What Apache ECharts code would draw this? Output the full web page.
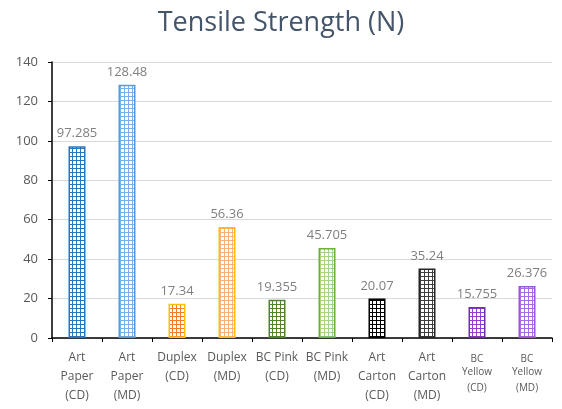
<!DOCTYPE html>
<html>
<head>
<meta charset="utf-8">
<script src="https://cdn.jsdelivr.net/npm/echarts@6/dist/echarts.min.js"></script>
<style>
  html, body { margin: 0; padding: 0; background: #fff; }
  #chart { width: 562px; height: 409px; }
</style>
</head>
<body>
<div id="chart"></div>
<script>
// Tensile strength per board grade and direction
const categories = [
  'Art\nPaper\n(CD)', 'Art\nPaper\n(MD)', 'Duplex\n(CD)', 'Duplex\n(MD)',
  'BC Pink\n(CD)', 'BC Pink\n(MD)', 'Art\nCarton\n(CD)', 'Art\nCarton\n(MD)',
  'BC\nYellow\n(CD)', 'BC\nYellow\n(MD)'
];
const values = [97.285, 128.48, 17.34, 56.36, 19.355, 45.705, 20.07, 35.24, 15.755, 26.376];
const yTicks = [0, 20, 40, 60, 80, 100, 120, 140];

// Border and grid-line colours for each bar's cross-hatch fill
const borderColors = ['#2e75b6', '#5b9bd5', '#ffc000', '#ffc000', '#548235', '#70ad47', '#000000', '#262626', '#7030a0', '#9b59d0'];
const hatchColors  = ['#2e75b6', '#7fb0e0', '#ed7d31', '#f4b183', '#548235', '#a9d18e', '#000000', '#404040', '#8e44c8', '#a66ee0'];

function hatch(color) {
  const c = document.createElement('canvas');
  c.width = 4; c.height = 4;
  const g = c.getContext('2d');
  g.fillStyle = '#ffffff';
  g.fillRect(0, 0, 4, 4);
  g.fillStyle = color;
  g.fillRect(0, 0, 4, 1);
  g.fillRect(0, 0, 1, 4);
  return c;
}

const chart = echarts.init(document.getElementById('chart'));
chart.setOption({
  animation: false,
  title: {
    text: 'Tensile Strength (N)',
    left: 'center',
    top: 5,
    textStyle: { fontFamily: 'Open Sans', fontSize: 27, fontWeight: 'normal', color: '#44546a' }
  },
  grid: { left: 52, right: 10, top: 62, bottom: 71 },
  xAxis: {
    type: 'category',
    data: categories,
    axisLine: { lineStyle: { color: '#000', width: 1.5 } },
    axisTick: { show: true, length: 4, lineStyle: { color: '#000' } },
    axisLabel: {
      interval: 0,
      margin: 10,
      color: '#595959',
      fontFamily: 'Open Sans',
      fontSize: 12,
      lineHeight: 19,
      formatter: function (v) {
        if (v.indexOf('Yellow') >= 0) {
          const p = v.split('\n');
          return '{s1|' + p[0] + '}\n{s|' + p[1] + '}\n{s|' + p[2] + '}';
        }
        return v;
      },
      rich: {
        s1: { fontSize: 10, lineHeight: 16, padding: [6, 0, 0, 0], color: '#595959', fontFamily: 'Open Sans' },
        s: { fontSize: 10, lineHeight: 16, color: '#595959', fontFamily: 'Open Sans' }
      }
    }
  },
  yAxis: {
    type: 'value',
    min: yTicks[0],
    max: yTicks[yTicks.length - 1],
    interval: yTicks[1] - yTicks[0],
    axisLine: { show: true, lineStyle: { color: '#000', width: 1.5 } },
    axisTick: { show: true, length: 4, lineStyle: { color: '#000' } },
    axisLabel: { color: '#595959', fontFamily: 'Open Sans', fontSize: 13, margin: 14 },
    splitLine: { lineStyle: { color: '#d9d9d9' } }
  },
  series: [{
    type: 'bar',
    barWidth: 17,
    data: values.map(function (v, i) {
      return {
        value: v,
        itemStyle: {
          color: { image: hatch(hatchColors[i]), repeat: 'repeat' },
          borderColor: borderColors[i],
          borderWidth: 1.5
        }
      };
    }),
    label: {
      show: true,
      position: 'top',
      distance: 6,
      color: '#7f7f7f',
      fontFamily: 'Open Sans',
      fontSize: 13
    }
  }]
});
</script>
</body>
</html>
